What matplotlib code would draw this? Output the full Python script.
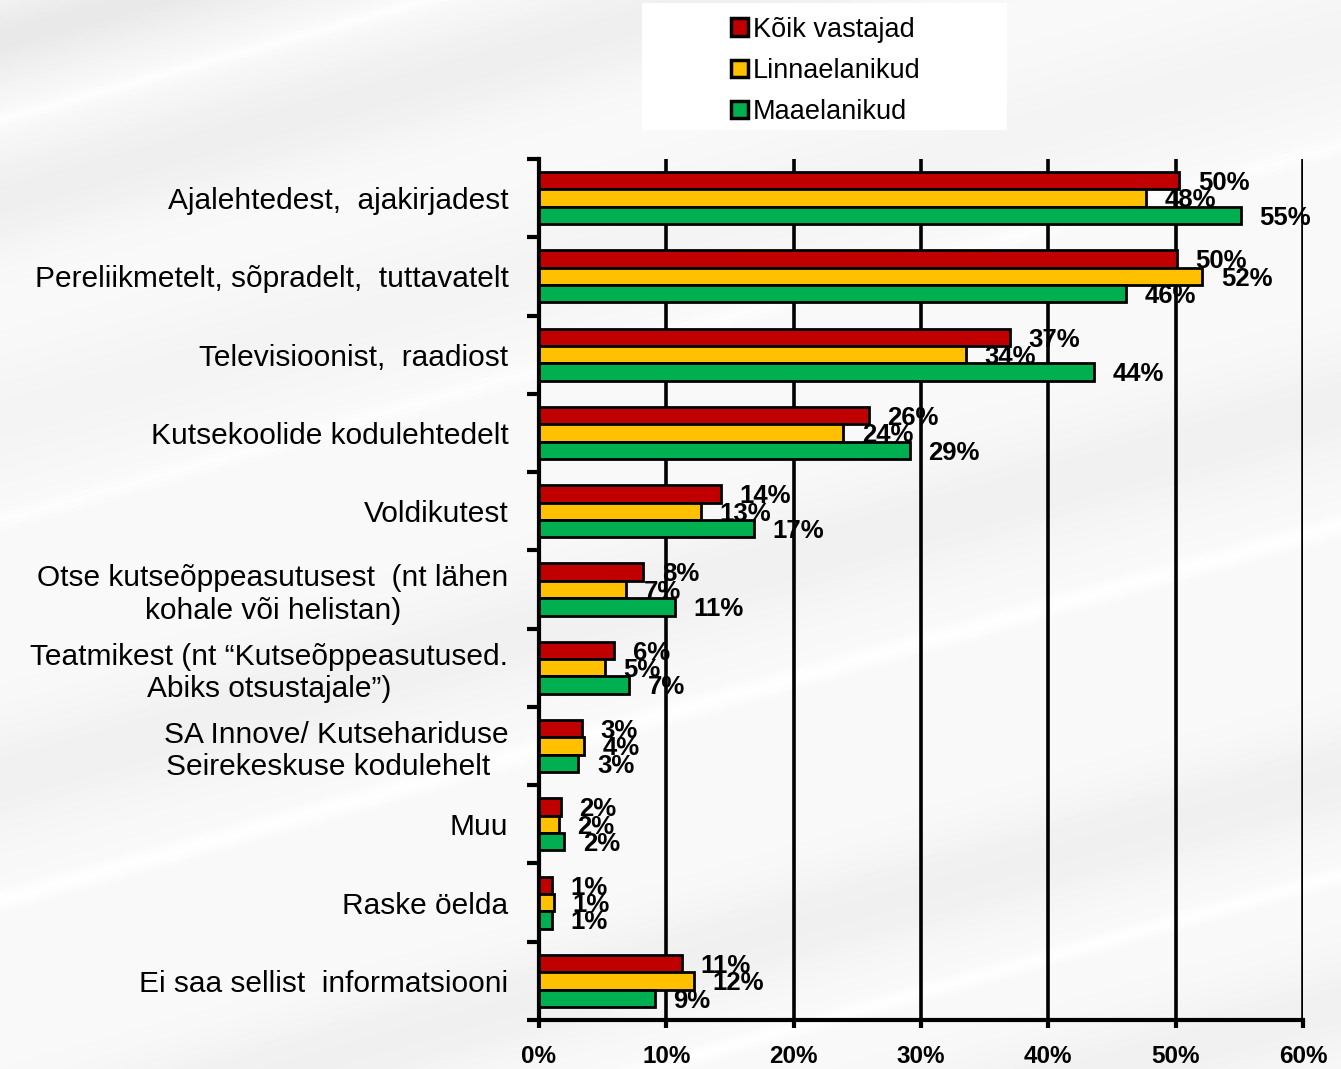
import numpy as np
import matplotlib
matplotlib.use("Agg")
import matplotlib.pyplot as plt
from matplotlib.patches import Patch, Rectangle

plt.rcParams["font.family"] = ["Liberation Sans", "DejaVu Sans"]

categories = [
    "Ajalehtedest,  ajakirjadest",
    "Pereliikmetelt, sõpradelt,  tuttavatelt",
    "Televisioonist,  raadiost",
    "Kutsekoolide kodulehtedelt",
    "Voldikutest",
    "Otse kutseõppeasutusest  (nt lähen\nkohale või helistan)",
    "Teatmikest (nt “Kutseõppeasutused.\nAbiks otsustajale”)",
    "SA Innove/ Kutsehariduse\nSeirekeskuse kodulehelt  ",
    "Muu",
    "Raske öelda",
    "Ei saa sellist  informatsiooni",
]
series_names = ["Kõik vastajad", "Linnaelanikud", "Maaelanikud"]
koik = [50.3, 50.1, 37.0, 25.9, 14.3, 8.2, 5.9, 3.4, 1.7, 1.0, 11.2]
linn = [47.7, 52.1, 33.5, 23.9, 12.7, 6.8, 5.2, 3.55, 1.55, 1.2, 12.2]
maa = [55.1, 46.1, 43.6, 29.1, 16.9, 10.7, 7.1, 3.1, 2.0, 1.0, 9.1]
xticks = [0, 10, 20, 30, 40, 50, 60]

colors = ["#C00000", "#FFC000", "#00B050"]


def main():
    fig = plt.figure(figsize=(13.41, 10.69), dpi=100)

    # background with soft diagonal streaks
    bg = fig.add_axes([0, 0, 1, 1], zorder=-5)
    h, w = 1069, 1341
    yy, xx = np.mgrid[0:h, 0:w]
    u = yy + 0.28 * xx
    img = np.full((h, w), 0.975)
    for c, a, s in [(40, -0.06, 45), (120, 0.02, 10), (200, -0.04, 50),
                    (420, -0.02, 60), (520, 0.015, 12), (780, -0.03, 60),
                    (900, 0.02, 12), (1150, -0.035, 50), (1250, 0.02, 10),
                    (1380, -0.03, 50)]:
        img += a * np.exp(-((u - c) / s) ** 2)
    img = np.clip(img, 0, 1)
    bg.imshow(img, cmap="gray", vmin=0, vmax=1, extent=[0, 1, 0, 1],
              aspect="auto", interpolation="bilinear")
    bg.add_patch(Rectangle((642 / w, 1 - 130 / h), 365 / w, 127 / h,
                           facecolor="white", edgecolor="none"))
    bg.set_xlim(0, 1)
    bg.set_ylim(0, 1)
    bg.axis("off")

    ax = fig.add_axes([539 / w, 1 - 1020 / h, 764 / w, 861 / h])
    ax.set_facecolor("none")

    y = np.arange(len(categories))
    bh = 0.222
    for k, (vals, col) in enumerate(zip([koik, linn, maa], colors)):
        pos = y + (k - 1) * bh
        ax.barh(pos, vals, height=bh, color=col, edgecolor="black",
                linewidth=2.0, zorder=3)
        for p, v in zip(pos, vals):
            ax.text(v + 1.45, p + 0.03, f"{v:.0f}%", ha="left", va="center",
                    fontsize=18.5, fontweight="bold", zorder=4)

    ax.set_xlim(0, 60)
    ax.set_ylim(len(categories) - 0.5, -0.5)
    ax.set_xticks(xticks)
    ax.set_xticklabels([f"{t}%" for t in xticks], fontsize=17.5,
                       fontweight="bold")
    ax.tick_params(axis="x", direction="out", length=6, width=3, pad=12)

    ax.set_yticks(y)
    ax.set_yticklabels(categories, fontsize=21.5)
    for lbl in ax.get_yticklabels():
        lbl.set_multialignment("center")
    ax.tick_params(axis="y", which="major", length=0, pad=22)
    ax.set_yticks(np.arange(len(categories) + 1) - 0.5, minor=True)
    ax.tick_params(axis="y", which="minor", direction="out", length=9,
                   width=3)

    ax.xaxis.grid(True, color="black", linewidth=2.6, zorder=1)
    ax.set_axisbelow(True)
    for side in ["top", "right"]:
        ax.spines[side].set_visible(False)
    for side in ["left", "bottom"]:
        ax.spines[side].set_linewidth(3)

    handles = [Patch(facecolor=c, edgecolor="black", linewidth=2.5)
               for c in colors]
    fig.legend(handles, series_names, loc="center",
               bbox_to_anchor=(826 / w, 1 - 71 / h), frameon=False,
               fontsize=19.5, handlelength=0.6, handleheight=0.6,
               handletextpad=0.2, labelspacing=0.57)

    fig.savefig("out.png", dpi=100)
    plt.close("all")


if __name__ == "__main__":
    main()
